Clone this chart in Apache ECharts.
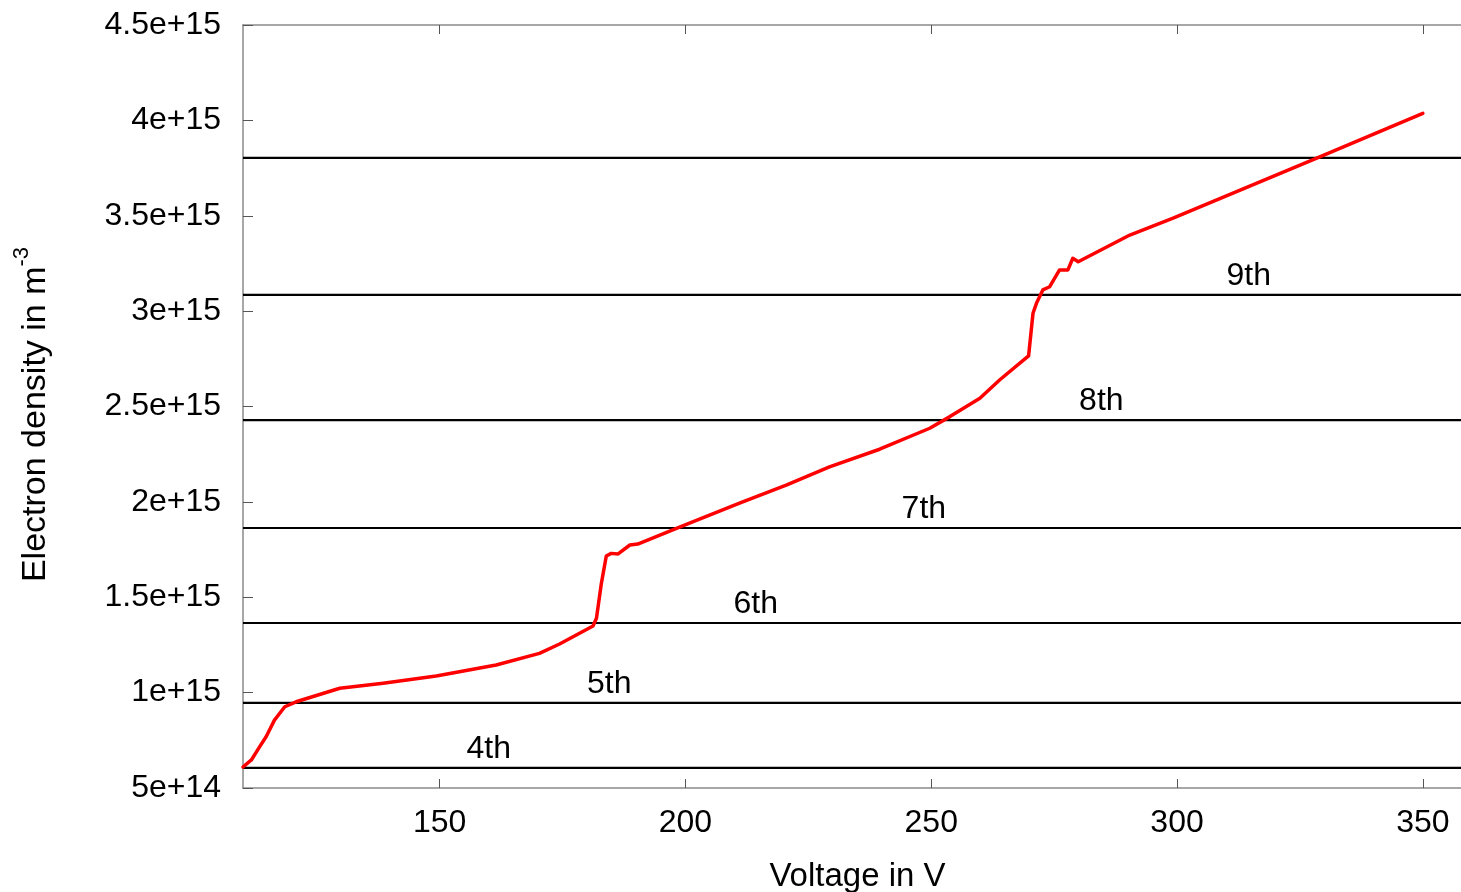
<!DOCTYPE html>
<html>
<head>
<meta charset="utf-8">
<script src="https://cdn.jsdelivr.net/npm/echarts@6/dist/echarts.min.js"></script>
<style>html,body{margin:0;padding:0;background:#fff}#c{width:1461px;height:892px}</style>
</head>
<body>
<div id="c"></div>
<script>
// Electron density curve (Voltage in V, density in m^-3)
const voltage = [110.0,111.7,113.4,114.7,116.4,118.5,120.8,129.7,138.5,149.3,161.5,170.3,174.4,181.2,181.9,182.9,183.9,184.9,186.3,188.7,190.3,198.8,211.0,220.5,229.3,239.5,249.7,253.8,259.9,263.9,269.8,270.7,271.4,272.7,274.1,276.1,277.8,278.8,279.9,290.4,299.2,328.3,350.0];
const density = [6.1e14,6.47e14,7.17e14,7.69e14,8.56e14,9.26e14,9.52e14,1.023e15,1.049e15,1.087e15,1.145e15,1.206e15,1.255e15,1.349e15,1.39e15,1.573e15,1.716e15,1.73e15,1.727e15,1.774e15,1.779e15,1.867e15,1.993e15,2.088e15,2.184e15,2.276e15,2.386e15,2.447e15,2.543e15,2.639e15,2.765e15,2.989e15,3.041e15,3.111e15,3.128e15,3.216e15,3.216e15,3.277e15,3.259e15,3.399e15,3.487e15,3.801e15,4.037e15];
// Horizontal threshold levels
const levels = [6.05e14,9.46e14,1.365e15,1.863e15,2.429e15,3.085e15,3.803e15];
const levelNames = ['4th','5th','6th','7th','8th','9th',''];
const labelX = [160,184.5,214.3,248.5,284.6,314.6];
const xTicks = [150,200,250,300,350];
const xMin = 110, xMax = 360;
const yMin = 5e14, yMax = 4.5e15, yStep = 5e14;

const FONT = "'Liberation Sans', Arial, sans-serif";
const chart = echarts.init(document.getElementById('c'), null, {renderer:'canvas'});

const series = [];
levels.forEach(function(v){
  series.push({
    type:'line', xAxisIndex:0, yAxisIndex:0, silent:true, symbol:'none',
    data:[[xMin,v],[xMax,v]],
    lineStyle:{color:'#000',width:2.2}, z:2
  });
});
series.push({
  type:'scatter', xAxisIndex:0, yAxisIndex:0, symbolSize:0, silent:true,
  itemStyle:{opacity:1},
  data: labelX.map(function(x,i){return {value:[x,levels[i]], name:levelNames[i]};}),
  label:{show:true, position:'top', distance:3, formatter:function(p){return p.name;},
         color:'#000', opacity:1, fontSize:32, fontFamily:FONT}
});
series.push({
  type:'line', xAxisIndex:0, yAxisIndex:0, symbol:'none', smooth:false,
  data: voltage.map(function(x,i){return [x,density[i]];}),
  lineStyle:{color:'#ff0000',width:3.5, cap:'round', join:'round'}, z:5
});

const axisLineStyle = {color:'#8a8a8a', width:1.5};
chart.setOption({
  animation:false,
  backgroundColor:'#fff',
  grid:{left:243, top:25, bottom:104, width:1229, containLabel:false, outerBoundsMode:'none'},
  xAxis:[{
    type:'value', min:xMin, max:xMax, position:'bottom',
    name:'Voltage in V', nameLocation:'middle', nameGap:72,
    nameTextStyle:{fontSize:33, fontFamily:FONT, color:'#000'},
    axisLine:{show:true, onZero:false, lineStyle:axisLineStyle},
    axisTick:{show:true, inside:true, length:9, customValues:xTicks, lineStyle:{color:'#555',width:1}},
    axisLabel:{show:true, customValues:xTicks, margin:19, fontSize:32, fontFamily:FONT, color:'#000'},
    splitLine:{show:false}
  },{
    type:'value', min:xMin, max:xMax, position:'top',
    axisLine:{show:true, onZero:false, lineStyle:axisLineStyle},
    axisTick:{show:true, inside:true, length:9, customValues:xTicks, lineStyle:{color:'#555',width:1}},
    axisLabel:{show:false}, splitLine:{show:false}
  }],
  yAxis:[{
    type:'value', min:yMin, max:yMax, interval:yStep, position:'left',
    name:'{m|Electron density in m}{s|-3}', nameLocation:'middle', nameGap:190, nameRotate:90,
    nameTextStyle:{fontSize:34, fontFamily:FONT, color:'#000', padding:[0,16,0,0],
      rich:{m:{fontSize:34, fontFamily:FONT, color:'#000', lineHeight:42, verticalAlign:'bottom'},
            s:{fontSize:22, fontFamily:FONT, color:'#000', lineHeight:42, verticalAlign:'top'}}},
    axisLine:{show:true, onZero:false, lineStyle:axisLineStyle},
    axisTick:{show:true, inside:true, length:10, lineStyle:{color:'#555',width:1}},
    axisLabel:{show:true, margin:22, fontSize:32, fontFamily:FONT, color:'#000', padding:[8,0,0,0],
      formatter:function(v){return Number(v).toExponential();}},
    splitLine:{show:false}
  }],
  series:series
});
</script>
</body>
</html>
